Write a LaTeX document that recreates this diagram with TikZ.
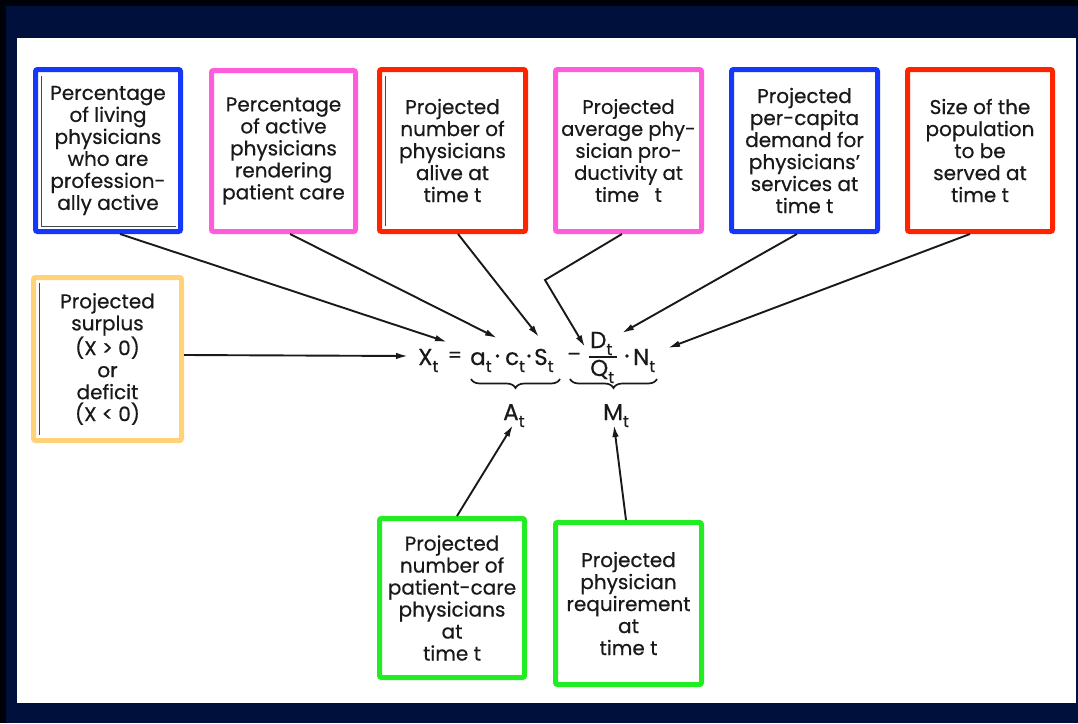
\documentclass[tikz,border=0pt]{standalone}
\usepackage{fontspec}
\setmainfont{Poppins}[FakeBold=0.5]
\usetikzlibrary{arrows.meta,decorations.pathreplacing}
\definecolor{navy}{RGB}{0,16,60}
\definecolor{cblue}{RGB}{20,55,250}
\definecolor{cpink}{RGB}{255,92,220}
\definecolor{cred}{RGB}{255,36,0}
\definecolor{corange}{RGB}{255,210,122}
\definecolor{cgreen}{RGB}{34,236,34}
\definecolor{ink}{RGB}{25,25,25}
\newcommand{\sbt}{\raisebox{-7pt}{\fontsize{16}{16}\selectfont t}}
\tikzset{
  box/.style={draw=#1, line width=5pt, rounded corners=2pt, fill=white,
    align=center, inner sep=0pt, text=ink,
    font=\fontsize{20}{22}\selectfont},
  term/.style={anchor=base west, inner sep=0pt, text=ink, font=\fontsize{23}{23}\selectfont},
  op/.style={inner sep=0pt, text=ink, font=\fontsize{20}{20}\selectfont},
  dotop/.style={circle, fill=ink, inner sep=0pt, minimum size=3.6pt},
  arr/.style={draw=ink, line width=1.9pt, -{Latex[length=12pt,width=6.5pt]}},
  brc/.style={draw=ink, line width=1.7pt, decorate,
    decoration={brace, mirror, amplitude=9pt}},
  scan/.style={draw=ink!80, line width=1pt}
}
\begin{document}
\begin{tikzpicture}[x=1pt,y=-1pt]
\useasboundingbox (0,0) rectangle (1078,723);
% frame
\fill[navy] (0,0) rectangle (1078,723);
\fill[black!85!navy] (0,0) rectangle (1078,6);
\fill[black!85!navy] (0,0) rectangle (6,723);
\fill[white] (17,38) rectangle (1076,703);

% top boxes
\node[box=cblue, minimum width=145, minimum height=162] (b1) at (108,150.5)
  {Percentage\\of living\\physicians\\who are\\profession-\\ally active};
\node[box=cpink, minimum width=144, minimum height=161] (b2) at (283.5,151)
  {Percentage\\of active\\physicians\\rendering\\patient care};
\node[box=cred, minimum width=146, minimum height=162] (b3) at (452.5,150.5)
  {Projected\\number of\\physicians\\alive at\\time t};
\node[box=cpink, minimum width=146, minimum height=162, font=\fontsize{19.5}{22}\selectfont] (b4) at (628.5,150.5)
  {Projected\\average phy-\\sician pro-\\ductivity at\\time\ \ \ t};
\node[box=cblue, minimum width=146, minimum height=162] (b5) at (804.5,150.5)
  {Projected\\per-capita\\demand for\\physicians'\\services at\\time t};
\node[box=cred, minimum width=145, minimum height=162] (b6) at (980,150.5)
  {Size of the\\population\\to be\\served at\\time t};
% left box
\node[box=corange, minimum width=148, minimum height=163] (b7) at (107.5,359)
  {Projected\\surplus\\(X > 0)\\or\\deficit\\(X < 0)};
% bottom boxes
\node[box=cgreen, minimum width=145, minimum height=159] (b8) at (452,598)
  {Projected\\number of\\patient-care\\physicians\\at\\time t};
\node[box=cgreen, minimum width=146, minimum height=162] (b9) at (628.5,603.5)
  {Projected\\physician\\requirement\\at\\time t};

% scan lines inside some boxes
\draw[scan] (41.5,76) -- (41.5,226) -- (176,226);
\draw[scan] (385.5,76) -- (385.5,226);
\draw[scan] (39.5,283) -- (39.5,435);

% equation
\node[term] (X) at (418,365) {X\sbt};
\node[op] (eq) at (455,357) {=};
\node[term] (a) at (470,365) {a\sbt};
\node[dotop] (d1) at (497.5,356) {};
\node[term] (c) at (505,365) {c\sbt};
\node[dotop] (d2) at (529,356) {};
\node[term] (S) at (534,365) {S\sbt};
\node[op] (mi) at (574,357) {--};
\node[term] (D) at (590,348) {D\sbt};
\node[term] (Q) at (590,376) {Q\sbt};
\coordinate (barl) at (589,357);
\coordinate (barr) at (617,357);
\draw[ink, line width=1.7pt] (barl) -- (barr);
\node[dotop] (d3) at (627,356) {};
\node[term] (N) at (633,365) {N\sbt};

% braces
\coordinate (br1a) at (471,379);
\coordinate (br1b) at (560,379);
\coordinate (br2a) at (570,379);
\coordinate (br2b) at (657,379);
\draw[brc] (br1a) -- (br1b);
\draw[brc] (br2a) -- (br2b);
\node[term] (A) at (503,420) {A\sbt};
\node[term] (M) at (603,420) {M\sbt};

% arrow tips
\coordinate (tX) at (447,342);
\coordinate (ta) at (497,338);
\coordinate (tS) at (539,337);
\coordinate (k4) at (545,280);
\coordinate (tD) at (585,347);
\coordinate (tD2) at (622,333);
\coordinate (tN) at (668,348);
\coordinate (tL) at (408,356);
\coordinate (tA) at (513,425);
\coordinate (tM) at (614,425);

\draw[arr] ([xshift=12pt]b1.south) -- (tX);
\draw[arr] ([xshift=6.5pt]b2.south) -- (ta);
\draw[arr] ([xshift=5.5pt]b3.south) -- (tS);
\draw[arr] ([xshift=-6.5pt]b4.south) -- (k4) -- (tD);
\draw[arr] ([xshift=-7.5pt]b5.south) -- (tD2);
\draw[arr] ([xshift=-10pt]b6.south) -- (tN);
\draw[arr] ([yshift=4pt]b7.east) -- (tL);
\draw[arr] ([xshift=5pt]b8.north) -- (tA);
\draw[arr] ([xshift=-2.5pt]b9.north) -- (tM);
\end{tikzpicture}
\end{document}
